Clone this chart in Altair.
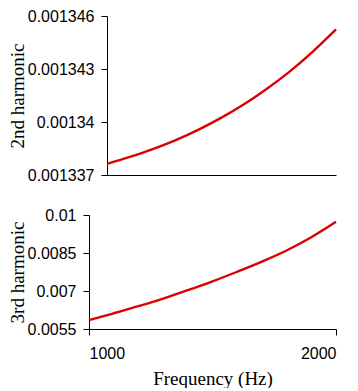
import altair as alt
import pandas as pd

freq = [1000, 1100, 1200, 1300, 1400, 1500, 1600, 1700, 1800, 1900, 2000]
h2 = [0.00133763, 0.00133802, 0.00133846, 0.00133897, 0.00133957, 0.00134025,
      0.00134102, 0.00134190, 0.00134288, 0.00134400, 0.00134524]
h3 = [0.00585, 0.00612, 0.00640, 0.00670, 0.00703, 0.00738,
      0.00776, 0.00816, 0.00860, 0.00912, 0.00973]

x_ticks = [1000, 2000]
h2_ticks = [0.001337, 0.00134, 0.001343, 0.001346]
h3_ticks = [0.0055, 0.007, 0.0085, 0.01]

df = pd.DataFrame({"freq": freq, "h2": h2, "h3": h3})

RED = "#dd0000"
label_font = "Liberation Sans"
title_font = "Liberation Serif"

common_axis = dict(
    labelFont=label_font, labelFontSize=16, labelColor="black",
    titleFont=title_font, titleFontSize=19, titleFontWeight="normal", titleColor="black",
    domainColor="black", tickColor="black", tickSize=6, grid=False,
)

SHIFT = 18  # top panel's plot starts further right than the bottom one
W = 247

top = alt.Chart(df).mark_line(color=RED, strokeWidth=2.4, interpolate="monotone").encode(
    x=alt.X("freq:Q", scale=alt.Scale(domain=[1000, 2000], nice=False, range=[SHIFT, W]),
            axis=alt.Axis(labels=False, ticks=False, title=None, domainColor="black", grid=False)),
    y=alt.Y("h2:Q", scale=alt.Scale(domain=[0.001337, 0.001346], nice=False, zero=False),
            axis=alt.Axis(values=h2_ticks, format=".6~g", title="2nd harmonic", offset=-SHIFT,
                          labelPadding=7, titlePadding=0, **common_axis)),
).properties(width=W, height=159)

bottom = alt.Chart(df).mark_line(color=RED, strokeWidth=2.4, interpolate="monotone").encode(
    x=alt.X("freq:Q", scale=alt.Scale(domain=[1000, 2000], nice=False),
            axis=alt.Axis(values=x_ticks, format="d", title="Frequency (Hz)",
                          labelPadding=10, titlePadding=8, **common_axis)),
    y=alt.Y("h3:Q", scale=alt.Scale(domain=[0.0055, 0.01], nice=False, zero=False),
            axis=alt.Axis(values=h3_ticks, format=".6~g", title="3rd harmonic",
                          labelPadding=7, titlePadding=0, **common_axis)),
).properties(width=W, height=114)

chart = alt.vconcat(top, bottom, spacing=24).properties(
    padding={"top": 0, "left": 0, "right": 0, "bottom": 0}
).configure_view(stroke=None)

chart.save("out.html", embed_options={"renderer": "svg", "actions": False})
